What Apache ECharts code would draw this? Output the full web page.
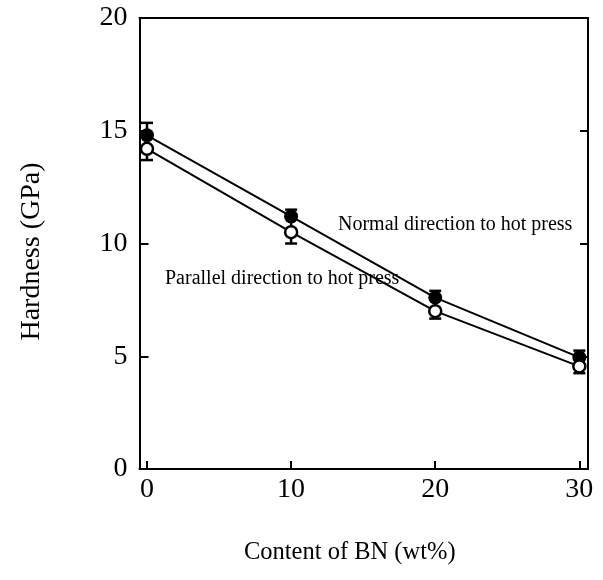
<!DOCTYPE html>
<html><head><meta charset="utf-8">
<script src="https://cdn.jsdelivr.net/npm/echarts@6/dist/echarts.min.js"></script>
<style>html,body{margin:0;padding:0;background:#fff}#c{width:603px;height:580px}</style>
</head><body><div id="c"></div>
<script>
const bnContent = [0, 10, 20, 30];
const normalHardness = [14.8, 11.2, 7.6, 4.95];
const parallelHardness = [14.2, 10.5, 7.0, 4.55];
const normalErrUp = [0.55, 0.3, 0.3, 0.3];
const parallelErrDown = [0.5, 0.5, 0.33, 0.3];
const yTicks = [0, 5, 10, 15, 20];
const xTicks = [0, 10, 20, 30];

const FONT = '"Liberation Serif", "DejaVu Serif", serif';
const normalData = bnContent.map((x, i) => [x, normalHardness[i]]);
const parallelData = bnContent.map((x, i) => [x, parallelHardness[i]]);
const errData = bnContent.map((x, i) => [x, parallelHardness[i] - parallelErrDown[i], normalHardness[i] + normalErrUp[i]]);

const chart = echarts.init(document.getElementById('c'));
chart.setOption({
  backgroundColor: '#fff',
  animation: false,
  grid: {left: 139.5, right: 15, top: 18, bottom: 111, containLabel: false},
  xAxis: [{
    type: 'value', min: -0.52, max: 30.6,
    name: 'Content of BN (wt%)', nameLocation: 'middle', nameGap: 71,
    nameTextStyle: {fontFamily: FONT, fontSize: 24.5, color: '#000', padding: [0, 28, 0, 0]},
    axisLine: {show: true, onZero: false, lineStyle: {color: '#000', width: 2}},
    axisTick: {show: true, inside: true, length: 8, lineStyle: {color: '#000', width: 2},
      customValues: xTicks},
    axisLabel: {fontFamily: FONT, fontSize: 28, color: '#000', margin: 7, customValues: xTicks,
      showMinLabel: true, showMaxLabel: true},
    splitLine: {show: false}
  }, {
    type: 'value', min: -0.52, max: 30.6, position: 'top',
    axisLine: {show: true, onZero: false, lineStyle: {color: '#000', width: 2}},
    axisTick: {show: false}, axisLabel: {show: false}, splitLine: {show: false}
  }],
  yAxis: [{
    type: 'value', min: 0, max: 20, interval: 5,
    name: 'Hardness (GPa)', nameLocation: 'middle', nameGap: 94,
    nameTextStyle: {fontFamily: FONT, fontSize: 28, color: '#000', padding: [0, 16, 0, 0]},
    axisLine: {show: true, onZero: false, lineStyle: {color: '#000', width: 2}},
    axisTick: {show: true, inside: true, length: 9, lineStyle: {color: '#000', width: 2}},
    axisLabel: {fontFamily: FONT, fontSize: 28, color: '#000', margin: 12,
      formatter: v => yTicks.includes(v) ? String(v) : ''},
    splitLine: {show: false}
  }, {
    type: 'value', min: 0, max: 20, interval: 5, position: 'right',
    axisLine: {show: true, onZero: false, lineStyle: {color: '#000', width: 2}},
    axisTick: {show: true, inside: true, length: 8, lineStyle: {color: '#000', width: 2}},
    axisLabel: {show: false}, splitLine: {show: false}
  }],
  series: [
    {
      type: 'line', name: 'Normal', data: normalData, z: 2,
      lineStyle: {color: '#000', width: 2}, symbol: 'circle', symbolSize: 14,
      itemStyle: {color: '#000'}, silent: true
    },
    {
      type: 'line', name: 'Parallel', data: parallelData, z: 2,
      lineStyle: {color: '#000', width: 2}, symbol: 'circle', symbolSize: 12,
      itemStyle: {color: '#fff', borderColor: '#000', borderWidth: 2.5}, silent: true
    },
    {
      type: 'custom', data: errData, z: 1, silent: true,
      encode: {x: 0, y: [1, 2]},
      renderItem: function (params, api) {
        const x = api.value(0);
        const lo = api.coord([x, api.value(1)]);
        const hi = api.coord([x, api.value(2)]);
        const w = 6;
        const st = {stroke: '#000', lineWidth: 2.5};
        return {type: 'group', children: [
          {type: 'line', shape: {x1: lo[0], y1: lo[1], x2: hi[0], y2: hi[1]}, style: st},
          {type: 'line', shape: {x1: lo[0] - w, y1: lo[1], x2: lo[0] + w, y2: lo[1]}, style: st},
          {type: 'line', shape: {x1: hi[0] - w, y1: hi[1], x2: hi[0] + w, y2: hi[1]}, style: st}
        ]};
      }
    }
  ],
  graphic: [
    {type: 'text', left: 338, top: 215, style: {text: 'Normal direction to hot press', font: '20px ' + FONT, fill: '#000'}},
    {type: 'text', left: 165, top: 269, style: {text: 'Parallel direction to hot press', font: '20px ' + FONT, fill: '#000'}}
  ]
});
</script></body></html>
